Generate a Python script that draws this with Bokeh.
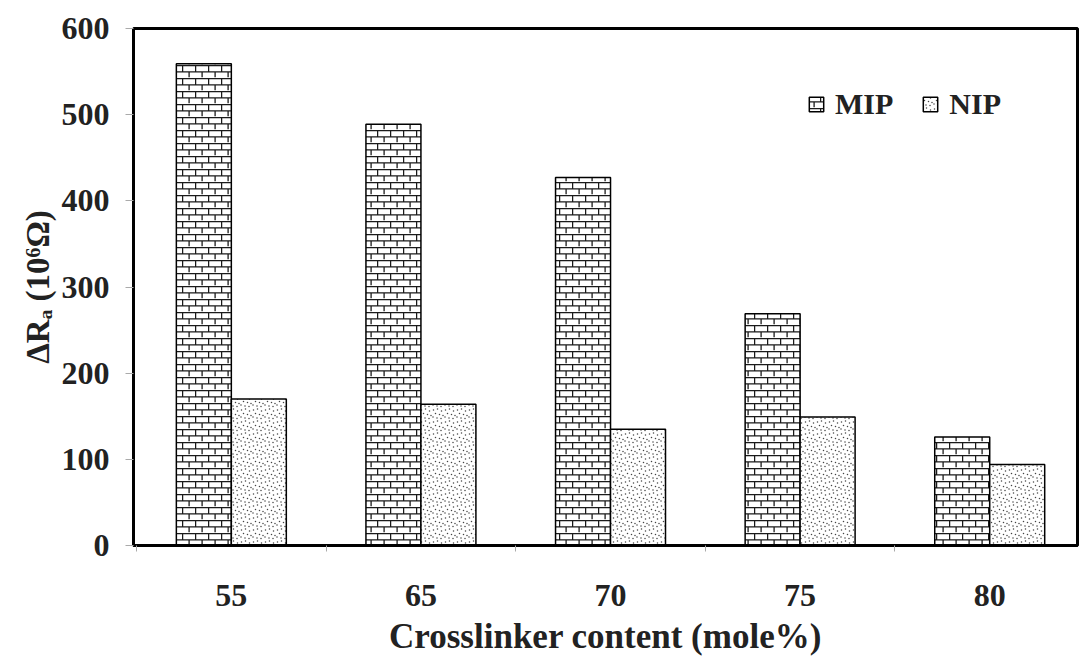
import base64
import numpy as np
from bokeh.plotting import figure
from bokeh.models import (Range1d, FixedTicker, Legend, LegendItem, ImageURLTexture,
                          ColumnDataSource)
from bokeh.core.properties import value
from bokeh.embed import file_html
from bokeh.resources import INLINE

# ---- data ----
categories = ["55", "65", "70", "75", "80"]
mip = [559, 489, 427, 269, 126]
nip = [170, 164, 135, 149, 94]
y_ticks = [0, 100, 200, 300, 400, 500, 600]

FONT = "Liberation Serif"

brick_svg = ('<svg xmlns="http://www.w3.org/2000/svg" width="13" height="12.6">'
             '<rect width="13" height="12.6" fill="white"/>'
             '<path d="M0 0.6H13M0 6.9H13M0.6 0V6.9M7.1 6.9V12.6" stroke="#1a1a1a" stroke-width="1.3" fill="none"/>'
             '</svg>')
dot_svg = ('<svg xmlns="http://www.w3.org/2000/svg" width="12" height="12">'
           '<rect width="12" height="12" fill="white"/>'
           '<g fill="#444">'
           '<circle cx="1.5" cy="2" r="0.75"/><circle cx="5.5" cy="1" r="0.75"/>'
           '<circle cx="9.5" cy="3" r="0.75"/><circle cx="3.5" cy="5.5" r="0.75"/>'
           '<circle cx="7.5" cy="6.5" r="0.75"/><circle cx="11" cy="7.5" r="0.75"/>'
           '<circle cx="1" cy="9" r="0.75"/><circle cx="5" cy="10" r="0.75"/>'
           '<circle cx="9" cy="10.5" r="0.75"/>'
           '</g></svg>')


def uri(s):
    return "data:image/svg+xml;base64," + base64.b64encode(s.encode()).decode()


brick = ImageURLTexture(url=uri(brick_svg), repetition="repeat")
dots = ImageURLTexture(url=uri(dot_svg), repetition="repeat")

p = figure(width=1079, height=659, output_backend="svg", toolbar_location=None,
           x_range=Range1d(-0.516, 4.463), y_range=Range1d(0, 600),
           min_border_left=133, min_border_top=28, min_border_bottom=114,
           min_border_right=2)
p.background_fill_color = "white"
p.border_fill_color = "white"
p.outline_line_color = "black"
p.outline_line_width = 3
p.grid.visible = False

x = np.arange(len(categories))
w = 0.29
src = ColumnDataSource(dict(xm=x - w / 2, xn=x + w / 2, mip=mip, nip=nip))
r1 = p.vbar(x="xm", top="mip", width=w, source=src, fill_color="white",
            hatch_pattern=value("brick"), hatch_extra={"brick": brick},
            line_color="black", line_width=1.5)
r2 = p.vbar(x="xn", top="nip", width=w, source=src, fill_color="white",
            hatch_pattern=value("dots"), hatch_extra={"dots": dots},
            line_color="black", line_width=1.5)

# x axis
xa = p.xaxis[0]
xa.ticker = FixedTicker(ticks=list(x), minor_ticks=list(np.arange(len(categories) + 1) - 0.5))
xa.major_label_overrides = {int(i): c for i, c in zip(x, categories)}
xa.major_tick_line_color = None
xa.major_tick_out = 6
xa.minor_tick_line_color = "#aaaaaa"
xa.minor_tick_out = 6
xa.minor_tick_in = 0
xa.axis_line_color = "black"
xa.axis_line_width = 3
xa.major_label_text_font = FONT
xa.major_label_text_font_style = "bold"
xa.major_label_text_font_size = "32px"
xa.major_label_text_color = "#222222"
xa.major_label_standoff = 33
xa.axis_label = "Crosslinker content (mole%)"
xa.axis_label_text_font = FONT
xa.axis_label_text_font_style = "bold"
xa.axis_label_text_font_size = "35px"
xa.axis_label_text_color = "#222222"
xa.axis_label_standoff = 8

# y axis
ya = p.yaxis[0]
ya.ticker = FixedTicker(ticks=y_ticks)
ya.major_tick_line_color = "#aaaaaa"
ya.major_tick_out = 8
ya.major_tick_in = 0
ya.minor_tick_line_color = None
ya.axis_line_color = "black"
ya.axis_line_width = 3
ya.major_label_text_font = FONT
ya.major_label_text_font_style = "bold"
ya.major_label_text_font_size = "32px"
ya.major_label_text_color = "#222222"
ya.major_label_standoff = 16
ya.axis_label = "\u0394R\u2090 (10\u2076\u03a9)"
ya.axis_label_text_font = FONT
ya.axis_label_text_font_style = "bold"
ya.axis_label_text_font_size = "33px"
ya.axis_label_text_color = "#222222"
ya.axis_label_standoff = 3

legend = Legend(items=[LegendItem(label="MIP", renderers=[r1]),
                       LegendItem(label="NIP", renderers=[r2])],
                orientation="horizontal", location=(674, 424),
                background_fill_alpha=0, border_line_color=None,
                padding=0, margin=0, spacing=28, label_standoff=10,
                glyph_width=18, glyph_height=18,
                label_text_font=FONT, label_text_font_style="bold",
                label_text_font_size="30px", label_text_color="#222222")
p.add_layout(legend, "center")

open("out.html", "w").write(file_html(p, INLINE))
